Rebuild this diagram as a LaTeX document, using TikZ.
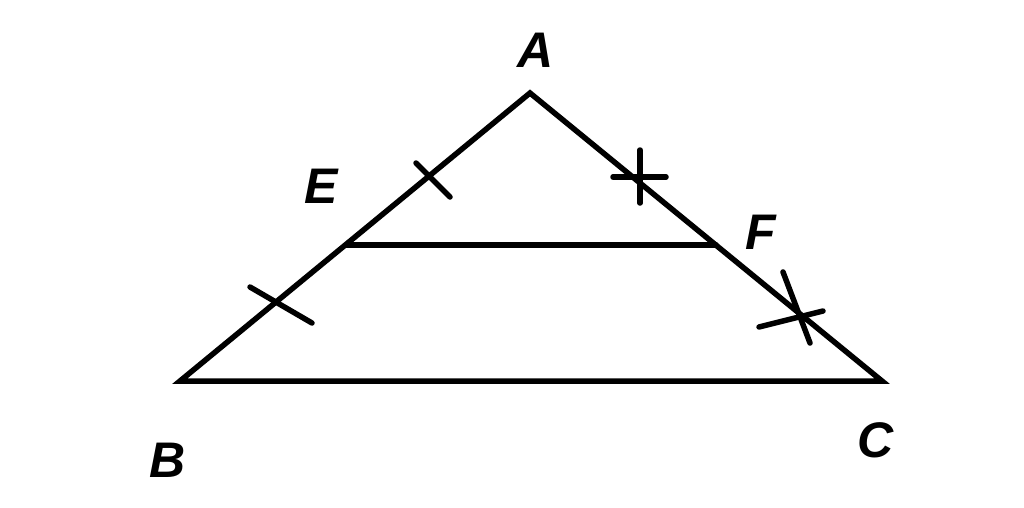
\documentclass[tikz,border=0pt]{standalone}
\usepackage{fontspec}
\setmainfont{Liberation Sans}
\begin{document}
\begin{tikzpicture}[x=1pt,y=-1pt,
  seg/.style={line width=5.5pt,line cap=round,line join=miter},
  tick/.style={line width=5.5pt,line cap=round},
  lbl/.style={font=\fontsize{50}{50}\selectfont\bfseries\itshape,inner sep=0pt}]
\useasboundingbox (0,0) rectangle (1024,507);
\coordinate (A) at (530,93);
\coordinate (B) at (180,381);
\coordinate (C) at (882,381);
\coordinate (E) at (346,245);
\coordinate (F) at (716,245);
\draw[seg] (B) -- (A) -- (C) -- cycle;
\draw[seg] (E) -- (F);
% ticks
\draw[tick] (416,163) -- (450,197);
\draw[tick] (250,287) -- (312,323);
\draw[tick] (640,150) -- (640,203);
\draw[tick] (613,177) -- (666,177);
\draw[tick] (783,272) -- (810,343);
\draw[tick] (759,327) -- (823,311);
\node[lbl] (la) at (536,50) {A};
\node[lbl] (le) at (321,186) {E};
\node[lbl] (lf) at (761,232) {F};
\node[lbl] (lb) at (168,460) {B};
\node[lbl] (lc) at (876,440) {C};
\end{tikzpicture}
\end{document}
